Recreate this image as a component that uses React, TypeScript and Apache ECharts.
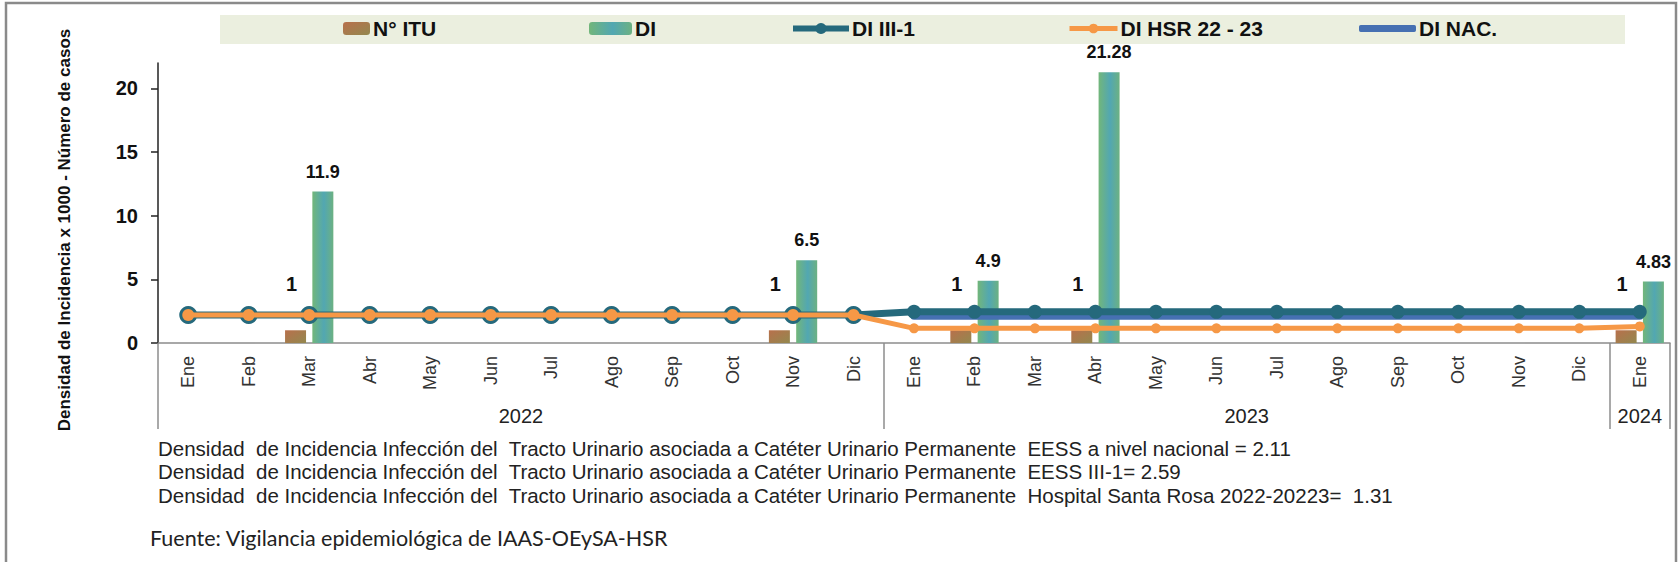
import React, { useEffect, useRef } from 'react';
import * as echarts from 'echarts';

const months = ['Ene','Feb','Mar','Abr','May','Jun','Jul','Ago','Sep','Oct','Nov','Dic','Ene','Feb','Mar','Abr','May','Jun','Jul','Ago','Sep','Oct','Nov','Dic','Ene'];
const yearLabels = ['2022', '2023', '2024'];
const yearMonthCounts = [12, 12, 1];

const ituCases = [null,null,1,null,null,null,null,null,null,null,1,null, null,1,null,1,null,null,null,null,null,null,null,null, 1];
const diValues = [null,null,11.9,null,null,null,null,null,null,null,6.5,null, null,4.9,null,21.28,null,null,null,null,null,null,null,null, 4.83];
const diIII1 = [2.2,2.2,2.2,2.2,2.2,2.2,2.2,2.2,2.2,2.2,2.2,2.2, 2.45,2.45,2.45,2.45,2.45,2.45,2.45,2.45,2.45,2.45,2.45,2.45, 2.45];
const diHSR = [2.2,2.2,2.2,2.2,2.2,2.2,2.2,2.2,2.2,2.2,2.2,2.2, 1.15,1.15,1.15,1.15,1.15,1.15,1.15,1.15,1.15,1.15,1.15,1.15, 1.3];
const diNAC = [null,null,null,null,null,null,null,null,null,null,null,null, 2.11,2.11,2.11,2.11,2.11,2.11,2.11,2.11,2.11,2.11,2.11,2.11, 2.11];
const yTicks = [0, 5, 10, 15, 20];

const seriesNames = ['N° ITU', 'DI', 'DI III-1', 'DI HSR 22 - 23', 'DI NAC.'];
const yAxisTitle = 'Densidad de Incidencia x 1000 - Número de casos';
const notes = [
  'Densidad  de Incidencia Infección del  Tracto Urinario asociada a Catéter Urinario Permanente  EESS a nivel nacional = 2.11',
  'Densidad  de Incidencia Infección del  Tracto Urinario asociada a Catéter Urinario Permanente  EESS III-1= 2.59',
  'Densidad  de Incidencia Infección del  Tracto Urinario asociada a Catéter Urinario Permanente  Hospital Santa Rosa 2022-20223=  1.31',
];
const source = 'Fuente: Vigilancia epidemiológica de IAAS-OEySA-HSR';

export default function App() {
  const ref = useRef<HTMLDivElement>(null);
  useEffect(() => {
    if (!ref.current) return;
    const chart = echarts.init(ref.current, undefined, { renderer: 'svg' });

    const cum = [0];
    yearMonthCounts.forEach((n) => cum.push(cum[cum.length - 1] + n));
    const total = cum[cum.length - 1];
    const yearAxisData: string[] = new Array(total * 2 + 1).fill('');
    yearLabels.forEach((y, i) => { yearAxisData[cum[i] + cum[i + 1]] = y; });
    const tickSet = new Set(cum.map((c) => c * 2));

    const narrow = "'Liberation Sans Narrow', 'Liberation Sans', Arial, sans-serif";
    const sans = "'Liberation Sans', Arial, sans-serif";

    const ituColor = new echarts.graphic.LinearGradient(0, 0, 1, 1, [
      { offset: 0, color: '#b8704c' }, { offset: 1, color: '#93884e' },
    ]);
    const diColor = new echarts.graphic.LinearGradient(0, 0, 1, 0, [
      { offset: 0, color: '#72b67a' }, { offset: 0.55, color: '#52a7b2' }, { offset: 1, color: '#6cb182' },
    ]);

    const legendText = { fontFamily: narrow, fontWeight: 'bold', fontSize: 21, color: '#111', padding: [0, 0, 0, -2] };
    const legends = [
      { data: [seriesNames[0]], left: 343, itemWidth: 27, itemHeight: 13 },
      { data: [seriesNames[1]], left: 589, itemWidth: 43, itemHeight: 13 },
      { data: [seriesNames[2]], left: 790, itemWidth: 56, itemHeight: 14, lineStyle: { width: 6 } },
      { data: [seriesNames[3]], left: 1067, itemWidth: 48, itemHeight: 12, lineStyle: { width: 5 } },
      { data: [{ name: seriesNames[4], icon: 'roundRect' }], left: 1359, itemWidth: 57, itemHeight: 7 },
    ].map((l) => ({ ...l, top: 18, height: 22, itemGap: 0, padding: 0, selectedMode: false, textStyle: legendText }));

    const option: any = {
      animation: false,
      backgroundColor: '#ffffff',
      textStyle: { fontFamily: sans },
      legend: legends,
      grid: { left: 158, right: 10, top: 63, bottom: 219, containLabel: false },
      xAxis: [
        {
          type: 'category',
          data: months,
          axisLine: { lineStyle: { color: '#8c8c8c', width: 1.5 } },
          axisTick: { show: false },
          axisLabel: { rotate: 90, margin: 13, fontSize: 18, color: '#333', fontFamily: sans, interval: 0 },
        },
        {
          type: 'category',
          data: yearAxisData,
          boundaryGap: false,
          position: 'bottom',
          axisLine: { show: false },
          axisTick: { show: true, length: 86, interval: (idx: number) => tickSet.has(idx), lineStyle: { color: '#8c8c8c', width: 1.5 } },
          axisLabel: { interval: 0, margin: 63, fontSize: 20, color: '#222', fontFamily: sans },
        },
      ],
      yAxis: {
        type: 'value',
        min: 0,
        max: 22,
        axisLine: { show: true, lineStyle: { color: '#222', width: 1.5 } },
        axisTick: { show: true, length: 7, customValues: yTicks, lineStyle: { color: '#222', width: 1.5 } },
        axisLabel: { customValues: yTicks, margin: 20, fontSize: 20, fontWeight: 'bold', color: '#111', fontFamily: sans },
        splitLine: { show: false },
      },
      series: [
        {
          name: seriesNames[0],
          type: 'bar',
          data: ituCases,
          barWidth: 21,
          barGap: '30%',
          itemStyle: { color: ituColor },
          label: { show: true, position: 'top', offset: [-4, -31], fontSize: 20, fontWeight: 'bold', color: '#111', fontFamily: sans },
          z: 1,
        },
        {
          name: seriesNames[1],
          type: 'bar',
          data: diValues,
          barWidth: 21,
          barGap: '30%',
          itemStyle: { color: diColor },
          label: { show: true, position: 'top', offset: [0, -6], fontSize: 18, fontWeight: 'bold', color: '#111', fontFamily: sans },
          z: 1,
        },
        {
          name: seriesNames[2],
          type: 'line',
          data: diIII1,
          symbol: 'circle',
          symbolSize: (_v: any, p: any) => (p.dataIndex < 12 ? 18 : 14),
          lineStyle: { color: '#25697c', width: 7 },
          itemStyle: { color: '#25697c' },
          z: 3,
        },
        {
          name: seriesNames[3],
          type: 'line',
          data: diHSR,
          symbol: 'circle',
          symbolSize: (_v: any, p: any) => (p.dataIndex < 12 ? 12 : 10),
          lineStyle: { color: '#f69846', width: 5 },
          itemStyle: { color: '#f69846' },
          z: 4,
        },
        {
          name: seriesNames[4],
          type: 'line',
          data: diNAC,
          symbol: 'none',
          lineStyle: { color: '#4670b2', width: 7, cap: 'round' },
          itemStyle: { color: '#4670b2' },
          z: 2,
        },
      ],
      graphic: [
        { type: 'rect', z: -10, silent: true, shape: { x: 6, y: 3, width: 1670, height: 640 }, style: { fill: 'none', stroke: '#8a8a8a', lineWidth: 2.5 } },
        { type: 'rect', z: -5, silent: true, shape: { x: 220, y: 15, width: 1405, height: 29 }, style: { fill: '#ebefdf' } },
        { type: 'text', x: 64, y: 230, rotation: Math.PI / 2, silent: true, style: { text: yAxisTitle, font: `bold 17px ${sans}`, fill: '#111', align: 'center', verticalAlign: 'middle' } },
        ...notes.map((t, i) => ({ type: 'text', x: 158, y: 448 + i * 23.5, silent: true, style: { text: t, font: `20.5px ${narrow}`, fill: '#222', align: 'left', verticalAlign: 'middle' } })),
        { type: 'text', x: 150, y: 538, silent: true, style: { text: source, font: `21.5px Lato, 'Open Sans', sans-serif`, fill: '#222', align: 'left', verticalAlign: 'middle' } },
      ],
    };
    chart.setOption(option);
    return () => chart.dispose();
  }, []);
  return <div ref={ref} style={{ position: 'absolute', left: 0, top: 0, width: 1680, height: 562, background: '#fff' }} />;
}
